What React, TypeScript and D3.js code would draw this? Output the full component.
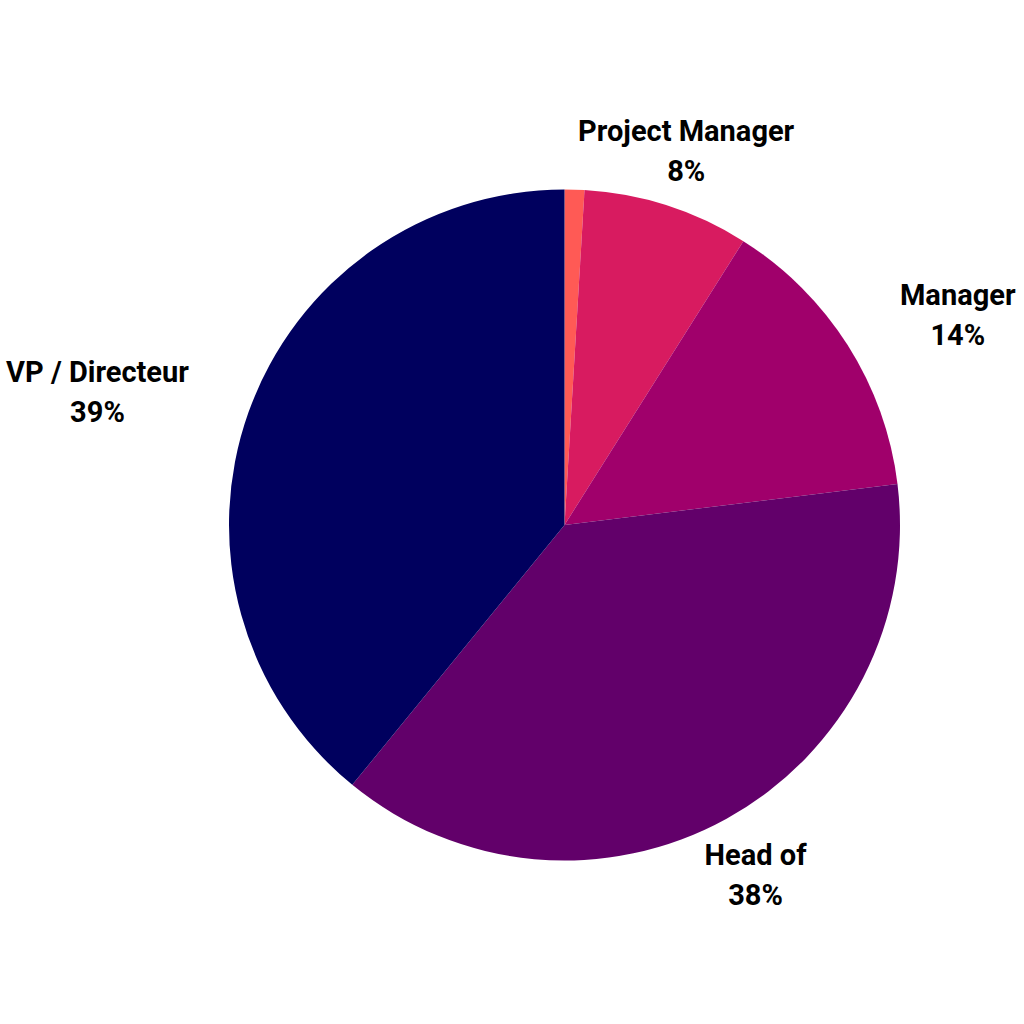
import React from "react";
import * as d3 from "d3";

const categories = ["Autre", "Project Manager", "Manager", "Head of", "VP / Directeur"];
const values = [0.95, 8.0, 14.1, 37.85, 39.1];
const percentLabels = ["", "8%", "14%", "38%", "39%"];
const colors = ["#FF5A55", "#D81B60", "#A0006B", "#62006A", "#00005E"];
// label offsets (px) relative to the outer-edge point at each slice's mid angle
const labelOffsets: [number, number][] = [
  [0, 0],
  [19, -55],
  [110, -31],
  [29, 56],
  [-151, -21],
];

const W = 1024;
const H = 1024;
const CX = 564.5;
const CY = 525;
const R = 335.5;
const FONT = 29;
const LINE = 40;

export default function App() {
  const data = categories.map((c, i) => ({ name: c, value: values[i], idx: i }));
  const pie = d3
    .pie<{ name: string; value: number; idx: number }>()
    .value((d) => d.value)
    .sort(null)
    .startAngle(0)
    .endAngle(2 * Math.PI);
  const arcs = pie(data);
  const arcGen = d3
    .arc<d3.PieArcDatum<{ name: string; value: number; idx: number }>>()
    .innerRadius(0)
    .outerRadius(R);

  return (
    <svg
      width={W}
      height={H}
      viewBox={`0 0 ${W} ${H}`}
      style={{ position: "absolute", left: 0, top: 0, background: "#fff" }}
    >
      <g transform={`translate(${CX},${CY})`}>
        {arcs.map((a) => (
          <path key={a.data.name} d={arcGen(a) || ""} fill={colors[a.data.idx]} />
        ))}
      </g>
      {arcs.map((a) => {
        const i = a.data.idx;
        if (!percentLabels[i]) return null;
        const mid = (a.startAngle + a.endAngle) / 2;
        const ax = CX + R * Math.sin(mid);
        const ay = CY - R * Math.cos(mid);
        const lx = ax + labelOffsets[i][0];
        const ly = ay + labelOffsets[i][1];
        const b1 = ly - LINE / 2 + 0.355 * FONT;
        return (
          <text
            key={"l" + i}
            textAnchor="middle"
            fontFamily="Roboto"
            fontWeight={700}
            fontSize={FONT}
            fill="#000"
          >
            <tspan x={lx} y={b1}>
              {categories[i]}
            </tspan>
            <tspan x={lx} y={b1 + LINE}>
              {percentLabels[i]}
            </tspan>
          </text>
        );
      })}
    </svg>
  );
}
